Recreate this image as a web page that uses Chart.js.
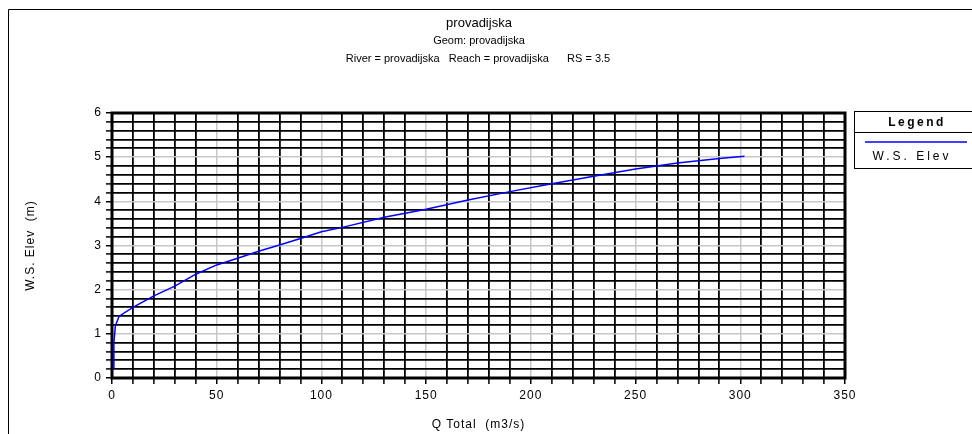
<!DOCTYPE html>
<html>
<head>
<meta charset="utf-8">
<script src="https://cdn.jsdelivr.net/npm/chart.js@4.4.0/dist/chart.umd.min.js"></script>
<style>
  body { margin: 0; background: #fff; }
  #wrap { width: 972px; height: 434px; }
</style>
</head>
<body>
<div id="wrap"><canvas id="rating" width="972" height="434"></canvas></div>
<script>
const chartTitle = "provadijska";
const subTitles = ["Geom: provadijska", "River = provadijska   Reach = provadijska      RS = 3.5"];
const seriesName = "W.S. Elev";
const xTitle = "Q Total  (m3/s)";
const yTitle = "W.S. Elev  (m)";

// rating curve
const qTotal = [0.6, 0.9, 1.6, 3.4, 10, 20, 30, 40, 50, 60, 70, 80, 90, 100, 110, 130, 150, 170, 190, 210, 230, 250, 270, 290, 302];
const wsElev = [0.22, 0.8, 1.18, 1.4, 1.6, 1.86, 2.08, 2.35, 2.56, 2.71, 2.87, 3.01, 3.16, 3.31, 3.41, 3.64, 3.82, 4.03, 4.22, 4.40, 4.57, 4.73, 4.87, 4.97, 5.02];

const xTickLabels = [0, 50, 100, 150, 200, 250, 300, 350];
const yTickLabels = [0, 1, 2, 3, 4, 5, 6];

const lineColor = "#0000ff";
const font = "Liberation Sans, Arial, sans-serif";

Chart.defaults.font.family = font;
Chart.defaults.font.size = 12;
Chart.defaults.color = "#000";

const onList = (v, list) => list.some(t => Math.abs(t - v) < 1e-6);

function gridOpts(labels) {
  return {
    color: c => (c.tick && onList(c.tick.value, labels)) ? "#c8c8c8" : "#000",
    lineWidth: c => (c.tick && onList(c.tick.value, labels)) ? 1.5 : 1.8,
    tickColor: "#000",
    tickWidth: 1.5,
    tickLength: 6,
  };
}

const decor = {
  id: "decor",
  beforeDraw(chart) {
    chart.ctx.letterSpacing = "1px";
  },
  beforeDatasetsDraw(chart) {
    const { ctx, chartArea: a } = chart;
    ctx.save();
    ctx.strokeStyle = "#000";
    ctx.lineWidth = 3;
    ctx.strokeRect(a.left, a.top, a.right - a.left, a.bottom - a.top);
    ctx.restore();
  },
  afterDraw(chart) {
    const ctx = chart.ctx;
    ctx.save();
    // outer frame
    ctx.strokeStyle = "#000";
    ctx.lineWidth = 1;
    ctx.beginPath();
    ctx.moveTo(8.5, 434);
    ctx.lineTo(8.5, 9.5);
    ctx.lineTo(972, 9.5);
    ctx.stroke();

    // titles
    ctx.fillStyle = "#000";
    ctx.textAlign = "center";
    ctx.textBaseline = "middle";
    ctx.letterSpacing = "0px";
    ctx.font = "13px " + font;
    ctx.fillText(chartTitle, 479, 23);
    ctx.font = "11px " + font;
    ctx.fillText(subTitles[0], 479, 41);
    ctx.fillText(subTitles[1], 478, 59);

    // legend box
    const bx = 854.5, by = 111.5, bw = 130, bh = 57;
    ctx.lineWidth = 1;
    ctx.strokeRect(bx, by, bw, bh);
    ctx.beginPath();
    ctx.moveTo(bx, by + 21);
    ctx.lineTo(bx + bw, by + 21);
    ctx.stroke();
    ctx.letterSpacing = "2.5px";
    ctx.font = "bold 12px " + font;
    ctx.fillText("Legend", 917, 123);
    ctx.strokeStyle = lineColor;
    ctx.lineWidth = 1.5;
    ctx.beginPath();
    ctx.moveTo(865, 142);
    ctx.lineTo(967, 142);
    ctx.stroke();
    ctx.letterSpacing = "3px";
    ctx.font = "12px " + font;
    ctx.fillText(seriesName, 912, 157);
    ctx.restore();
  }
};

new Chart(document.getElementById("rating").getContext("2d"), {
  type: "scatter",
  data: {
    datasets: [{
      label: seriesName,
      data: qTotal.map((q, i) => ({ x: q, y: wsElev[i] })),
      showLine: true,
      borderColor: lineColor,
      borderWidth: 1.5,
      pointRadius: 0,
      tension: 0,
    }]
  },
  options: {
    responsive: false,
    animation: false,
    layout: { padding: { left: 0, right: 127, top: 113, bottom: 0 } },
    plugins: {
      legend: { display: false },
      tooltip: { enabled: false },
    },
    scales: {
      x: {
        type: "linear",
        min: 0,
        max: 350,
        border: { display: false },
        grid: gridOpts(xTickLabels),
        ticks: {
          stepSize: 10,
          maxTicksLimit: 100,
          autoSkip: false,
          maxRotation: 0,
          padding: 4,
          callback: v => onList(v, xTickLabels) ? String(Math.round(v)) : "",
        },
        title: { display: true, text: xTitle, padding: { top: 0, bottom: 2 } },
        afterFit: s => { s.height = 56; },
      },
      y: {
        type: "linear",
        min: 0,
        max: 6,
        border: { display: false },
        grid: gridOpts(yTickLabels),
        ticks: {
          stepSize: 0.2,
          maxTicksLimit: 100,
          autoSkip: false,
          padding: 4,
          callback: v => onList(v, yTickLabels) ? String(Math.round(v)) : "",
        },
        title: { display: true, text: yTitle, padding: { top: 23, bottom: 0 } },
        afterFit: s => { s.width = 112; },
      }
    }
  },
  plugins: [decor]
});
</script>
</body>
</html>
